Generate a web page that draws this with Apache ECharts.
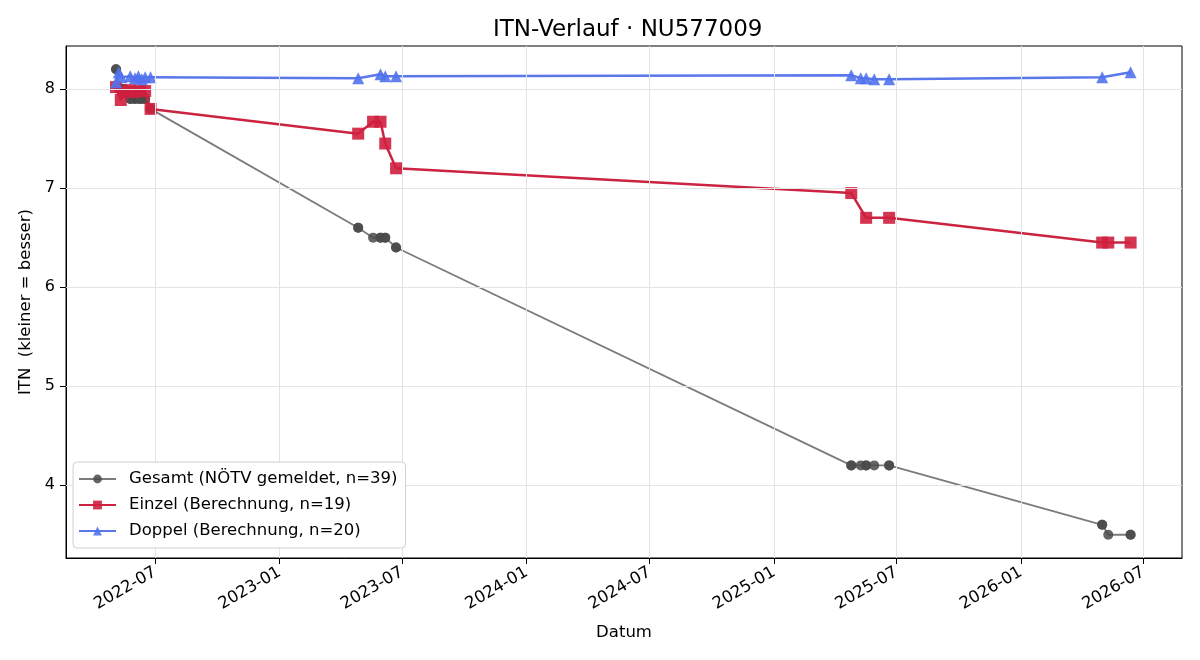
<!DOCTYPE html>
<html>
<head>
<meta charset="utf-8">
<title>ITN-Verlauf</title>
<script src="https://cdn.jsdelivr.net/npm/echarts@6/dist/echarts.min.js"></script>
<style>
  html, body { margin: 0; padding: 0; background: #fff; }
  #chart { width: 1200px; height: 660px; }
</style>
</head>
<body>
<div id="chart"></div>
<script>
// Gesamt (NÖTV gemeldet)
const gesamtDates = [
  '2022-05-04', '2022-05-04', '2022-05-08', '2022-05-11', '2022-05-12', '2022-05-16',
  '2022-05-25', '2022-05-25', '2022-05-31', '2022-06-01', '2022-06-06', '2022-06-09',
  '2022-06-11', '2022-06-16', '2022-06-16', '2022-06-24', '2022-06-24',
  '2023-04-27', '2023-04-27', '2023-05-19', '2023-05-30', '2023-05-30', '2023-06-06',
  '2023-06-06', '2023-06-22', '2023-06-22',
  '2025-04-25', '2025-04-25', '2025-05-09', '2025-05-17', '2025-05-17', '2025-05-29',
  '2025-06-20', '2025-06-20',
  '2026-05-01', '2026-05-01', '2026-05-10', '2026-06-12', '2026-06-12'
];
const gesamtValues = [
  8.2, 8.2, 8.0, 8.0, 8.0, 8.0,
  7.9, 7.9, 7.9, 7.9, 7.9, 7.9,
  7.9, 7.9, 7.9, 7.8, 7.8,
  6.6, 6.6, 6.5, 6.5, 6.5, 6.5,
  6.5, 6.4, 6.4,
  4.2, 4.2, 4.2, 4.2, 4.2, 4.2,
  4.2, 4.2,
  3.6, 3.6, 3.5, 3.5, 3.5
];

// Einzel (Berechnung)
const einzelDates = [
  '2022-05-04', '2022-05-11', '2022-05-16', '2022-05-25', '2022-05-31', '2022-06-09',
  '2022-06-16', '2022-06-24',
  '2023-04-27', '2023-05-19', '2023-05-30', '2023-06-06', '2023-06-22',
  '2025-04-25', '2025-05-17', '2025-06-20',
  '2026-05-01', '2026-05-10', '2026-06-12'
];
const einzelValues = [
  8.02, 7.89, 7.97, 7.99, 7.97, 7.98,
  7.98, 7.80,
  7.55, 7.67, 7.67, 7.45, 7.20,
  6.95, 6.70, 6.70,
  6.45, 6.45, 6.45
];

// Doppel (Berechnung)
const doppelDates = [
  '2022-05-04', '2022-05-08', '2022-05-12', '2022-05-25', '2022-06-01', '2022-06-06',
  '2022-06-11', '2022-06-16', '2022-06-24',
  '2023-04-27', '2023-05-30', '2023-06-06', '2023-06-22',
  '2025-04-25', '2025-05-09', '2025-05-17', '2025-05-29', '2025-06-20',
  '2026-05-01', '2026-06-12'
];
const doppelValues = [
  8.07, 8.17, 8.12, 8.13, 8.11, 8.13,
  8.10, 8.12, 8.12,
  8.11, 8.15, 8.13, 8.13,
  8.14, 8.11, 8.11, 8.10, 8.10,
  8.12, 8.17
];

// Achsen
const xTicks = ['2022-07-01', '2023-01-01', '2023-07-01', '2024-01-01', '2024-07-01',
  '2025-01-01', '2025-07-01', '2026-01-01', '2026-07-01'];
const yTicks = [4, 5, 6, 7, 8];

const font = 'DejaVu Sans';
const ts = d => new Date(d + 'T00:00:00Z').getTime();
const pairs = (dates, vals) => dates.map((d, i) => [ts(d), vals[i]]);
const xTickTs = xTicks.map(ts);

const pad2 = n => (n < 10 ? '0' : '') + n;
const fmtMonth = v => {
  const d = new Date(v);
  return d.getUTCFullYear() + '-' + pad2(d.getUTCMonth() + 1);
};

const myEcharts = echarts.init(document.getElementById('chart'), null, { renderer: 'canvas' });

const option = {
  animation: false,
  backgroundColor: '#fff',
  title: {
    text: 'ITN-Verlauf · NU577009',
    left: 488,
    top: 14,
    textStyle: { fontFamily: font, fontSize: 23, fontWeight: 'normal', color: '#000' }
  },
  grid: {
    left: 66, right: 18, top: 46, bottom: 102,
    show: true, borderColor: '#000', borderWidth: 1, backgroundColor: 'transparent'
  },
  legend: {
    orient: 'vertical',
    left: 73,
    top: 462,
    z: 10,
    padding: [8, 8, 8, 5],
    itemGap: 8,
    itemWidth: 37,
    itemHeight: 11,
    backgroundColor: 'rgba(255,255,255,0.93)',
    borderColor: '#d0d0d0',
    borderWidth: 1,
    borderRadius: 4,
    textStyle: { fontFamily: font, fontSize: 16.5, lineHeight: 18, color: '#000', padding: [0, 0, 0, 8] },
    data: ['Gesamt (NÖTV gemeldet, n=39)', 'Einzel (Berechnung, n=19)', 'Doppel (Berechnung, n=20)']
  },
  xAxis: {
    type: 'value',
    min: ts('2022-02-19'),
    max: ts('2026-08-27'),
    scale: true,
    name: 'Datum',
    nameLocation: 'middle',
    nameGap: 66,
    nameTextStyle: { fontFamily: font, fontSize: 16.5, color: '#000' },
    axisLine: { show: true, onZero: false, lineStyle: { color: '#000', width: 1 } },
    axisTick: { show: true, length: 6, lineStyle: { color: '#000' }, customValues: xTickTs },
    axisLabel: {
      fontFamily: font, fontSize: 16.5, color: '#000', rotate: 30, margin: 13,
      customValues: xTickTs, formatter: fmtMonth, hideOverlap: false
    },
    splitLine: { show: false }
  },
  yAxis: {
    type: 'value',
    min: 3.265,
    max: 8.435,
    name: 'ITN  (kleiner = besser)',
    nameLocation: 'middle',
    nameGap: 32,
    nameTextStyle: { fontFamily: font, fontSize: 16.5, color: '#000' },
    axisLine: { show: true, onZero: false, lineStyle: { color: '#000', width: 1 } },
    axisTick: { show: true, length: 6, lineStyle: { color: '#000' }, customValues: yTicks },
    axisLabel: { fontFamily: font, fontSize: 16, color: '#000', margin: 11, customValues: yTicks },
    splitLine: { show: false }
  },
  series: [
    {
      // Gitterlinien
      name: 'grid',
      type: 'line',
      data: [],
      silent: true,
      z: 0,
      markLine: {
        silent: true,
        symbol: 'none',
        label: { show: false },
        lineStyle: { color: '#e3e3e3', width: 1, type: 'solid' },
        data: xTickTs.map(v => ({ xAxis: v })).concat(yTicks.map(v => ({ yAxis: v })))
      }
    },
    {
      name: 'Gesamt (NÖTV gemeldet, n=39)',
      type: 'line',
      data: pairs(gesamtDates, gesamtValues),
      symbol: 'circle',
      symbolSize: 10,
      showAllSymbol: true,
      z: 2,
      lineStyle: { color: '#7b7b7b', width: 1.8 },
      itemStyle: { color: '#4a4a4a', opacity: 0.85 }
    },
    {
      name: 'Einzel (Berechnung, n=19)',
      type: 'line',
      data: pairs(einzelDates, einzelValues),
      symbol: 'rect',
      symbolSize: 12,
      showAllSymbol: true,
      z: 3,
      lineStyle: { color: '#cc2340', width: 2.5 },
      itemStyle: { color: '#cf1f3e', opacity: 0.9 }
    },
    {
      name: 'Doppel (Berechnung, n=20)',
      type: 'line',
      data: pairs(doppelDates, doppelValues),
      symbol: 'triangle',
      symbolSize: 12,
      showAllSymbol: true,
      z: 4,
      lineStyle: { color: '#5a77ec', width: 2.5 },
      itemStyle: { color: '#5272ee', opacity: 0.9 }
    }
  ]
};

option && myEcharts.setOption(option);
</script>
</body>
</html>
